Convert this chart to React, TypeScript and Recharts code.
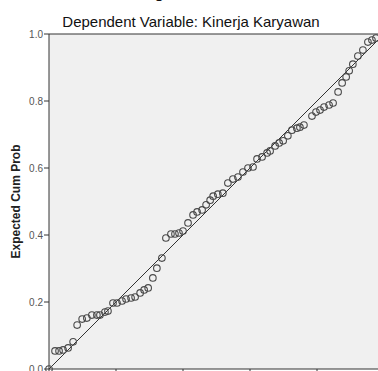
import React from "react";
import {
  ScatterChart,
  Scatter,
  XAxis,
  YAxis,
  CartesianGrid,
  ReferenceLine,
} from "recharts";

const observedCumProb = [
  0, 0.018, 0.03, 0.042, 0.057, 0.072, 0.084, 0.099, 0.113, 0.128, 0.143, 0.152,
  0.167, 0.176, 0.191, 0.203, 0.218, 0.23, 0.245, 0.257, 0.272, 0.284, 0.296,
  0.31, 0.322, 0.337, 0.349, 0.364, 0.376, 0.388, 0.4, 0.415, 0.43, 0.442,
  0.457, 0.469, 0.481, 0.49, 0.504, 0.519, 0.534, 0.549, 0.564, 0.579, 0.594,
  0.609, 0.621, 0.636, 0.651, 0.66, 0.675, 0.687, 0.699, 0.713, 0.725, 0.74,
  0.749, 0.761, 0.785, 0.797, 0.809, 0.821, 0.836, 0.848, 0.863, 0.875, 0.887,
  0.896, 0.907, 0.922, 0.937, 0.952, 0.964, 0.976,
];

const expectedCumProb = [
  0, 0.054, 0.054, 0.057, 0.063, 0.081, 0.131, 0.149, 0.152, 0.161, 0.161,
  0.161, 0.17, 0.173, 0.197, 0.197, 0.203, 0.209, 0.212, 0.215, 0.227, 0.236,
  0.242, 0.272, 0.301, 0.331, 0.391, 0.403, 0.403, 0.406, 0.412, 0.436, 0.46,
  0.469, 0.475, 0.49, 0.504, 0.516, 0.522, 0.525, 0.555, 0.567, 0.573, 0.588,
  0.6, 0.603, 0.627, 0.633, 0.645, 0.651, 0.666, 0.675, 0.681, 0.696, 0.713,
  0.719, 0.722, 0.728, 0.755, 0.767, 0.773, 0.782, 0.788, 0.794, 0.827, 0.854,
  0.872, 0.89, 0.91, 0.934, 0.952, 0.976, 0.982, 0.988,
];

const axisTicks = [0, 0.2, 0.4, 0.6, 0.8, 1.0];

const mainTitle = "Normal P-P Plot of Regression Standardized Residual";
const subTitle = "Dependent Variable: Kinerja Karyawan";
const yLabel = "Expected Cum Prob";
const xLabel = "Observed Cum Prob";

const points = observedCumProb.map((x, i) => ({ x, y: expectedCumProb[i] }));

const FONT = "'Liberation Sans', Arial, sans-serif";

const Ring = (props: any) => {
  const { cx, cy } = props;
  if (cx == null || cy == null) return null;
  return (
    <circle cx={cx} cy={cy} r={3.3} fill="none" stroke="#4a4a4a" strokeWidth={1.1} />
  );
};

export default function App() {
  return (
    <div
      style={{
        position: "absolute",
        left: 0,
        top: 0,
        width: 378,
        height: 371,
        overflow: "hidden",
        background: "#ffffff",
        fontFamily: FONT,
      }}
    >
      <ScatterChart
        width={400}
        height={390}
        margin={{ top: 34, right: 16, bottom: 0, left: 0 }}
        style={{ fontFamily: FONT }}
      >
        <CartesianGrid fill="#f0f0f0" horizontal={false} vertical={false} />
        <XAxis
          type="number"
          dataKey="x"
          domain={[0, 1]}
          ticks={axisTicks}
          height={21}
          tickSize={4}
          stroke="#333"
          tick={{ fontSize: 10, fill: "#444" }}
          tickFormatter={(v: number) => v.toFixed(1)}
          name={xLabel}
        />
        <YAxis
          type="number"
          dataKey="y"
          domain={[0, 1]}
          ticks={axisTicks}
          width={49}
          tickSize={5}
          tickMargin={1}
          stroke="#333"
          tick={{ fontSize: 10, fill: "#555" }}
          tickFormatter={(v: number) => v.toFixed(1)}
          label={{
            value: yLabel,
            angle: -90,
            position: "insideLeft",
            offset: 10,
            style: { fontSize: 12, fontWeight: "bold", fill: "#222", textAnchor: "middle" },
            dx: 6,
            dy: 0,
          }}
        />
        <ReferenceLine y={1} stroke="#333" strokeWidth={1} />
        <ReferenceLine
          segment={[
            { x: 0, y: 0 },
            { x: 1, y: 1 },
          ]}
          stroke="#333"
          strokeWidth={1}
        />
        <Scatter data={points} shape={Ring} isAnimationActive={false} />
        <text
          x={191}
          y={-2}
          textAnchor="middle"
          style={{ fontSize: 15, fontWeight: "bold", fill: "#111", fontFamily: FONT }}
        >
          {mainTitle}
        </text>
        <text
          x={191}
          y={27}
          textAnchor="middle"
          style={{ fontSize: 15, fill: "#111", fontFamily: FONT }}
        >
          {subTitle}
        </text>
      </ScatterChart>
    </div>
  );
}
